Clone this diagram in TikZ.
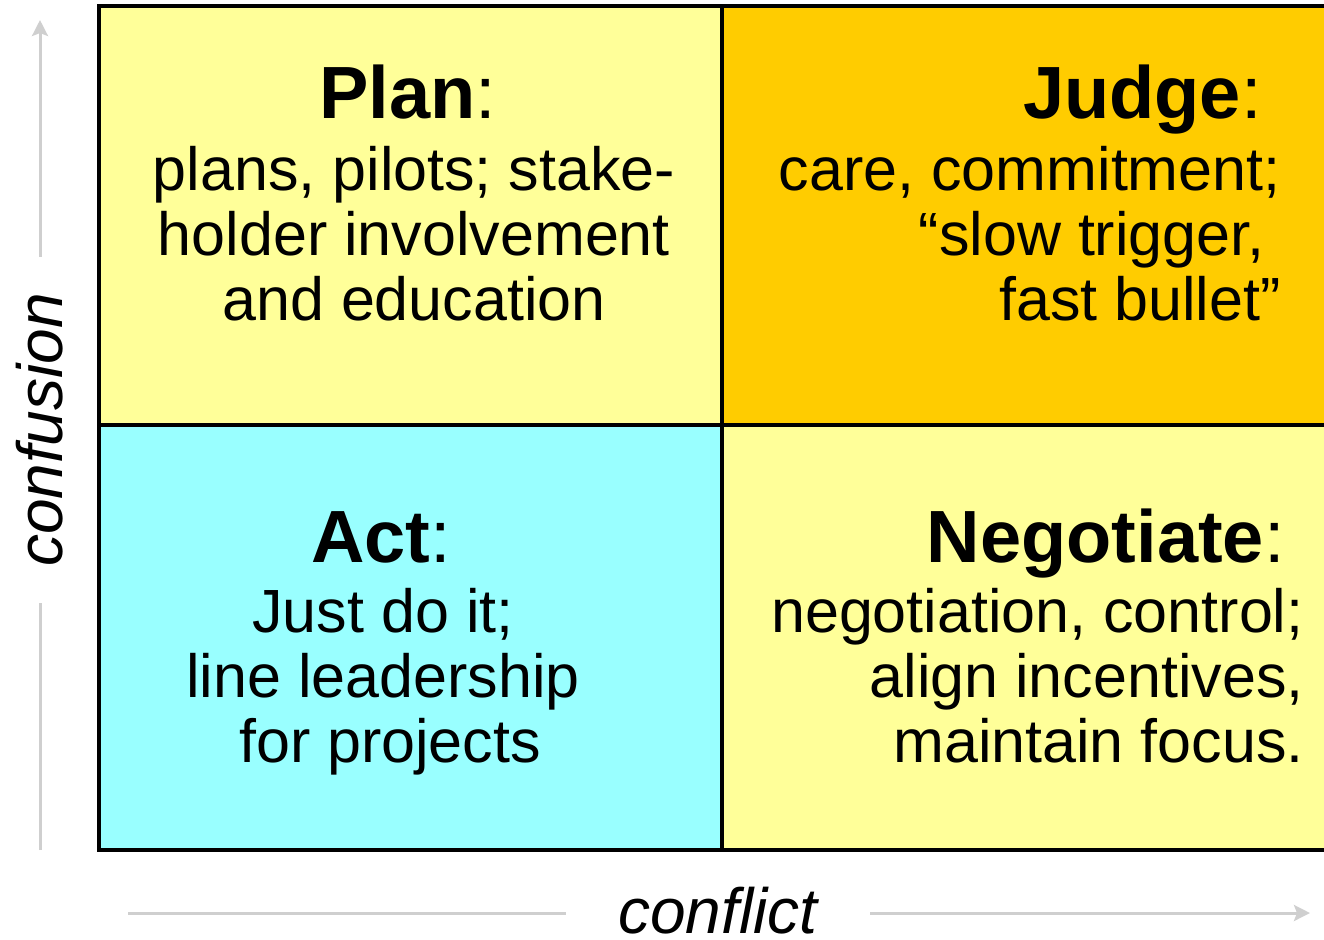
\documentclass[tikz,border=0pt]{standalone}
\usepackage{fontspec}
\setmainfont{Liberation Sans}
\usetikzlibrary{arrows.meta}

\definecolor{paleyellow}{HTML}{FFFF99}
\definecolor{deeporange}{HTML}{FFCC00}
\definecolor{palecyan}{HTML}{99FFFF}
\definecolor{axisgray}{HTML}{CFCFCF}

\begin{document}
\begin{tikzpicture}[x=0.5pt, y=-0.5pt,
    gridline/.style={line width=1.8pt, black},
    axisline/.style={line width=1.5pt, axisgray},
    axislabel/.style={font=\fontsize{32}{34}\selectfont\itshape, inner sep=0pt},
    headtext/.style={font=\fontsize{37}{40}\selectfont, inner sep=0pt},
    bodytext/.style={font=\fontsize{30.5}{32.5}\selectfont, inner sep=0pt}]
    \useasboundingbox (0,0) rectangle (1324,939);
    \clip (0,0) rectangle (1324,939);

    % the four cells
    \fill[paleyellow] (99,6) rectangle (722,425);
    \fill[deeporange] (722,6) rectangle (1340,425);
    \fill[palecyan] (99,425) rectangle (722,850);
    \fill[paleyellow] (722,425) rectangle (1340,850);
    \draw[gridline] (99,6) rectangle (1340,850);
    \draw[gridline] (722,6) -- (722,850);
    \draw[gridline] (99,425) -- (1340,425);

    % cell texts (base = last line)
    \node[headtext, anchor=base] (plan) at (408,118) {\textbf{Plan}:};
    \node[bodytext, anchor=base, align=center] (plantxt) at (414,320)
        {plans, pilots; stake-\\holder involvement\\and education};

    \node[headtext, anchor=base east] (judge) at (1262,118) {\textbf{Judge}:};
    \node[bodytext, anchor=base east, align=right] (judgetxt) at (1281,320)
        {care, commitment;\\``slow trigger,\kern8pt\\fast bullet''};

    \node[headtext, anchor=base] (act) at (381,562) {\textbf{Act}:};
    \node[bodytext, anchor=base, align=center] (acttxt) at (383,762)
        {Just do it;\\line leadership\\\kern7pt for projects};

    \node[headtext, anchor=base east] (negotiate) at (1285,562) {\textbf{Negotiate}:};
    \node[bodytext, anchor=base east, align=right] (negotiatetxt) at (1304,762)
        {negotiation, control;\\align incentives,\\maintain focus.};

    % axes
    \coordinate (yfoot) at (40,850);
    \coordinate (ytip) at (40,20);
    \coordinate (xfoot) at (128,913);
    \coordinate (xtip) at (1310,913);
    \node[axislabel, anchor=base, rotate=90, inner xsep=18pt] (confusion) at (62,430) {confusion};
    \node[axislabel, anchor=base, inner xsep=26pt] (conflict) at (718,933) {conflict};

    \draw[axisline] (yfoot) -- (yfoot |- confusion.west);
    \draw[axisline, -{Stealth[length=8pt, width=8pt, inset=1.5pt]}] (ytip |- confusion.east) -- (ytip);
    \draw[axisline] (xfoot) -- (xfoot -| conflict.west);
    \draw[axisline, -{Stealth[length=8pt, width=8pt, inset=1.5pt]}] (xtip -| conflict.east) -- (xtip);
\end{tikzpicture}
\end{document}
